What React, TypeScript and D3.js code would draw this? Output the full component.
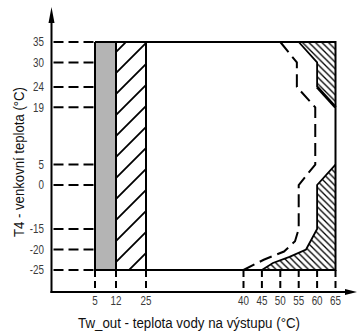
import React from "react";
import * as d3 from "d3";

// axis ticks (the drawing is schematic, so the scales are piecewise linear)
const xTicks = [5, 12, 25, 40, 45, 50, 55, 60, 65];
const yTicks = [35, 30, 24, 19, 5, 0, -15, -20, -25];
const xBreaks = [5, 12, 25, 40, 65];
const yBreaks = [35, 0, -15, -25];

// operating areas
const grayBand = [5, 12];
const hatchBand = [12, 25];
const topZone: [number, number][] = [[55, 35], [60, 30], [60, 24], [65, 19], [65, 35]];
const bottomZone: [number, number][] = [
  [65, 5], [60, 0], [60, -15], [57, -20], [52.5, -21.8], [48, -23.3], [45, -25], [65, -25]
];
const dashedLimit: [number, number][] = [
  [50, 35], [54.5, 30], [54.5, 24], [59.5, 19], [59.5, 5], [55, 0], [55, -15],
  [54, -18], [51, -20.5], [45.5, -22.5], [40, -25]
];

const W = 357;
const H = 331;
const axisX = 51.5;
const axisY = 292;

export default function App() {
  const x = d3.scaleLinear().domain(xBreaks).range([95, 116, 146, 243.5, 335.5]);
  const y = d3.scaleLinear().domain(yBreaks).range([42, 185, 229, 270]);

  const x0 = x(5), x1 = x(65), y0 = y(35), y1 = y(-25);
  const line = d3.line<[number, number]>().x((d) => x(d[0])).y((d) => y(d[1]));

  const tickFont = "'Liberation Sans', Arial, sans-serif";

  return (
    <svg width={W} height={H} style={{ position: "absolute", left: 0, top: 0 }}>
      <defs>
        <pattern id="wide" patternUnits="userSpaceOnUse" width={21} height={21}>
          <path d="M-6,6 L6,-6 M0,21 L21,0 M15,27 L27,15" stroke="#000" strokeWidth={1.8} />
        </pattern>
        <pattern id="fine" patternUnits="userSpaceOnUse" width={6.5} height={6.5}>
          <path d="M-2,4.5 L2,8.5 M0,0 L6.5,6.5 M4.5,-2 L8.5,2" stroke="#000" strokeWidth={1.3} />
        </pattern>
      </defs>

      {/* bands */}
      <rect x={x(grayBand[0])} y={y0} width={x(grayBand[1]) - x(grayBand[0])} height={y1 - y0} fill="#b4b4b4" />
      <rect x={x(hatchBand[0])} y={y0} width={x(hatchBand[1]) - x(hatchBand[0])} height={y1 - y0} fill="url(#wide)" />
      {[grayBand[0], grayBand[1], hatchBand[1]].map((v) => (
        <line key={v} x1={x(v)} x2={x(v)} y1={y0} y2={y1} stroke="#000" strokeWidth={2} />
      ))}

      {/* right zones */}
      <path d={line(topZone) + "Z"} fill="url(#fine)" />
      <path d={line(topZone.slice(0, 3))!} fill="none" stroke="#000" strokeWidth={1.8} />
      <path d={line(topZone.slice(2, 4))!} fill="none" stroke="#000" strokeWidth={3} />
      <path d={line(bottomZone) + "Z"} fill="url(#fine)" />
      <path d={line(bottomZone.slice(0, 7))!} fill="none" stroke="#000" strokeWidth={1.8} />
      <path d={line(dashedLimit)!} fill="none" stroke="#000" strokeWidth={2} strokeDasharray="13,6" />

      {/* frame */}
      <line x1={x0} x2={x1} y1={y0} y2={y0} stroke="#000" strokeWidth={2} />
      <line x1={x0} x2={x1} y1={y1} y2={y1} stroke="#000" strokeWidth={2} />
      <line x1={x1} x2={x1} y1={y0 - 1} y2={y1 + 1} stroke="#000" strokeWidth={2} />

      {/* y ticks */}
      {yTicks.map((t) => (
        <g key={t}>
          <line x1={axisX + 2} x2={x0} y1={y(t)} y2={y(t)} stroke="#000" strokeWidth={2} strokeDasharray="10,5" />
          <text
            transform={`translate(44,${y(t) + 4.3}) scale(0.82,1)`}
            textAnchor="end" fontSize={12} fontFamily={tickFont} fill="#3a3a3a"
          >
            {t}
          </text>
        </g>
      ))}

      {/* x ticks */}
      {xTicks.map((t) => (
        <g key={t}>
          <line x1={x(t)} x2={x(t)} y1={y1} y2={axisY} stroke="#000" strokeWidth={2} strokeDasharray="7,4" />
          <text
            transform={`translate(${x(t)},305) scale(0.82,1)`}
            textAnchor="middle" fontSize={12} fontFamily={tickFont} fill="#3a3a3a"
          >
            {t}
          </text>
        </g>
      ))}

      {/* axes */}
      <line x1={axisX} x2={axisX} y1={axisY + 1} y2={20} stroke="#000" strokeWidth={2} />
      <line x1={axisX - 1} x2={348} y1={axisY} y2={axisY} stroke="#000" strokeWidth={2} />
      <path d={`M${axisX},7 L${axisX - 3},23 L${axisX + 3},23 Z`} fill="#000" />
      <path d={`M357,${axisY} L345,${axisY - 3} L345,${axisY + 3} Z`} fill="#000" />

      <text
        x={189} y={327.5} textAnchor="middle" fontSize={14} fontFamily={tickFont} fill="#111"
        textLength={222} lengthAdjust="spacingAndGlyphs"
      >
        Tw_out - teplota vody na výstupu (°C)
      </text>
      <text
        transform="translate(23.5,162) rotate(-90)" textAnchor="middle" fontSize={14}
        fontFamily={tickFont} fill="#111" textLength={150} lengthAdjust="spacingAndGlyphs"
      >
        T4 - venkovní teplota (°C)
      </text>
    </svg>
  );
}
